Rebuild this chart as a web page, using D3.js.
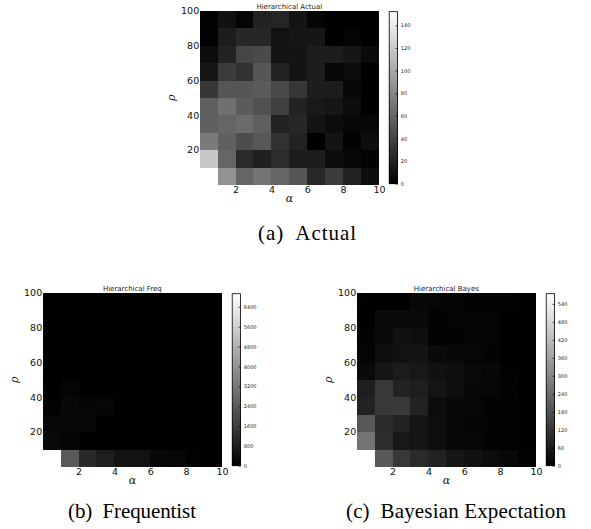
<!DOCTYPE html>
<html>
<head>
<meta charset="utf-8">
<script src="https://cdn.jsdelivr.net/npm/d3@7"></script>
<style>
  html, body { margin: 0; padding: 0; background: #fff; }
  svg { display: block; }
</style>
</head>
<body>
<svg id="chart" width="591" height="529"></svg>
<script>
// ---------- DATA ----------
// alpha bins (x), left edges; rho bins (y), lower edges
const alphaBins = [0, 1, 2, 3, 4, 5, 6, 7, 8, 9];
const rhoBins = [0, 10, 20, 30, 40, 50, 60, 70, 80, 90];
const xTicks = [2, 4, 6, 8, 10];
const yTicks = [20, 40, 60, 80, 100];

// rows from rho 0-10 (bottom) to rho 90-100 (top); columns alpha 0-1 ... 9-10
const actualGrid = [
  [152, 87, 60, 69, 60, 51, 24, 36, 20, 8],
  [119, 60, 25, 19, 26, 17, 17, 7, 4, 2],
  [73, 57, 46, 52, 30, 20, 0, 12, 2, 8],
  [57, 60, 64, 56, 20, 23, 12, 7, 4, 4],
  [56, 67, 54, 48, 38, 20, 15, 13, 7, 0],
  [33, 51, 51, 54, 44, 33, 17, 17, 5, 0],
  [13, 35, 30, 51, 20, 12, 17, 4, 7, 0],
  [7, 20, 41, 44, 12, 12, 17, 17, 13, 6],
  [1, 17, 23, 23, 11, 13, 13, 0, 3, 0],
  [1, 10, 3, 20, 22, 12, 3, 0, 0, 0]
];
const freqGrid = [
  [6930, 2430, 1080, 810, 490, 490, 220, 160, 50, 20],
  [270, 135, 20, 10, 10, 10, 10, 0, 0, 0],
  [170, 220, 160, 30, 10, 10, 0, 0, 0, 0],
  [60, 220, 135, 160, 20, 10, 0, 0, 0, 0],
  [20, 135, 40, 20, 10, 0, 0, 0, 0, 0],
  [10, 20, 10, 10, 0, 0, 0, 0, 0, 0],
  [10, 10, 10, 0, 0, 0, 0, 0, 0, 0],
  [0, 10, 0, 0, 0, 0, 0, 0, 0, 0],
  [0, 0, 0, 0, 0, 0, 0, 0, 0, 0],
  [0, 0, 0, 0, 0, 0, 0, 0, 0, 0]
];
const bayesGrid = [
  [574, 198, 126, 95, 77, 50, 38, 27, 18, 5],
  [259, 99, 54, 50, 32, 18, 14, 7, 5, 0],
  [198, 95, 77, 50, 32, 18, 11, 7, 5, 0],
  [77, 126, 126, 77, 27, 18, 14, 7, 5, 0],
  [68, 126, 77, 68, 47, 32, 18, 14, 7, 0],
  [23, 50, 63, 54, 38, 32, 23, 18, 5, 0],
  [9, 32, 41, 45, 23, 18, 14, 7, 0, 0],
  [7, 23, 38, 32, 5, 7, 11, 11, 0, 0],
  [0, 23, 23, 23, 5, 9, 11, 11, 0, 0],
  [0, 0, 0, 18, 14, 9, 5, 5, 5, 0]
];
const actualBarTicks = [0, 20, 40, 60, 80, 100, 120, 140];
const freqBarTicks = [0, 800, 1600, 2400, 3200, 4000, 4800, 5600, 6400];
const bayesBarTicks = [0, 60, 120, 180, 240, 300, 360, 420, 480, 540];

const titles = ["Hierarchical Actual", "Hierarchical Freq", "Hierarchical Bayes"];
const captions = ["(a)  Actual", "(b)  Frequentist", "(c)  Bayesian Expectation"];

// ---------- LAYOUT ----------
const panels = [
  { grid: actualGrid, barTicks: actualBarTicks, title: titles[0], caption: captions[0],
    x0: 199.7, y0: 10.7, capX: 258, capW: 98, capY: 240 },
  { grid: freqGrid, barTicks: freqBarTicks, title: titles[1], caption: captions[1],
    x0: 42.7, y0: 292.7, capX: 68, capW: 128, capY: 518 },
  { grid: bayesGrid, barTicks: bayesBarTicks, title: titles[2], caption: captions[2],
    x0: 356.7, y0: 292.7, capX: 346, capW: 220, capY: 518 }
];
const PW = 179.3, PH = 174;

const svg = d3.select("#chart");

panels.forEach(p => {
  const g = svg.append("g");
  const x = d3.scaleLinear().domain([0, 10]).range([p.x0, p.x0 + PW]);
  const y = d3.scaleLinear().domain([0, 100]).range([p.y0 + PH, p.y0]);
  const vmax = d3.max(p.grid.flat());
  const color = d3.scaleLinear().domain([0, vmax]).range(["#000000", "#ffffff"]).clamp(true);

  const cells = [];
  p.grid.forEach((row, ri) => row.forEach((v, ci) => {
    cells.push({ a: alphaBins[ci], r: rhoBins[ri], v });
  }));

  g.append("g").selectAll("rect").data(cells).join("rect")
    .attr("x", d => x(d.a))
    .attr("y", d => y(d.r + 10))
    .attr("width", d => x(d.a + 1) - x(d.a) + 0.3)
    .attr("height", d => y(d.r) - y(d.r + 10) + 0.3)
    .attr("fill", d => color(d.v))
    .attr("shape-rendering", "crispEdges");

  // title
  g.append("text")
    .attr("x", p.x0 + PW / 2).attr("y", p.y0 - 2.2)
    .attr("text-anchor", "middle")
    .attr("font-family", "DejaVu Sans").attr("font-size", 7)
    .attr("fill", "#222")
    .text(p.title);

  // y axis
  const yAxis = d3.axisLeft(y).tickValues(yTicks).tickSize(0).tickPadding(0.5);
  const ya = g.append("g").attr("transform", `translate(${p.x0},0)`).call(yAxis);
  ya.select(".domain").remove();
  ya.selectAll("text").attr("font-family", "DejaVu Sans").attr("font-size", 9.5).attr("fill", "#111");

  // x axis
  const xAxis = d3.axisBottom(x).tickValues(xTicks).tickSize(0).tickPadding(2);
  const xa = g.append("g").attr("transform", `translate(0,${p.y0 + PH})`).call(xAxis);
  xa.select(".domain").remove();
  xa.selectAll("text").attr("font-family", "DejaVu Sans").attr("font-size", 9.5).attr("fill", "#111");

  // axis labels
  g.append("text")
    .attr("x", p.x0 + PW / 2).attr("y", p.y0 + PH + 17.5)
    .attr("text-anchor", "middle")
    .attr("font-family", "DejaVu Serif").attr("font-style", "italic").attr("font-size", 11)
    .attr("fill", "#111")
    .text("α");
  g.append("text")
    .attr("transform", `translate(${p.x0 - 24.5},${p.y0 + PH / 2}) rotate(-90)`)
    .attr("text-anchor", "middle")
    .attr("font-family", "DejaVu Serif").attr("font-style", "italic").attr("font-size", 11)
    .attr("fill", "#111")
    .text("ρ");

  // colorbar
  const bx = p.x0 + PW + 10.2, bw = 8.4;
  const bTop = p.y0 + 1, bBot = p.y0 + PH - 1;
  const cb = d3.scaleLinear().domain([0, vmax]).range([bBot, bTop]);
  const steps = d3.range(0, 120);
  g.append("g").selectAll("rect").data(steps).join("rect")
    .attr("x", bx).attr("width", bw)
    .attr("y", i => cb(vmax * (i + 1) / steps.length))
    .attr("height", i => cb(vmax * i / steps.length) - cb(vmax * (i + 1) / steps.length) + 0.5)
    .attr("fill", i => color(vmax * (i + 0.5) / steps.length))
    .attr("shape-rendering", "crispEdges");
  g.append("rect")
    .attr("x", bx).attr("y", bTop).attr("width", bw).attr("height", bBot - bTop)
    .attr("fill", "none").attr("stroke", "#000").attr("stroke-width", 0.8);
  const cAxis = d3.axisRight(cb).tickValues(p.barTicks).tickFormat(d3.format("d"))
    .tickSize(-2).tickPadding(3.2);
  const ca = g.append("g").attr("transform", `translate(${bx + bw},0)`).call(cAxis);
  ca.select(".domain").remove();
  ca.selectAll("line").attr("stroke", "#000").attr("stroke-width", 0.7);
  ca.selectAll("text").attr("font-family", "DejaVu Sans").attr("font-size", 5).attr("fill", "#222");

  // caption
  svg.append("text")
    .attr("x", p.capX).attr("y", p.capY)
    .attr("font-family", "Liberation Serif").attr("font-size", 21)
    .attr("fill", "#000")
    .attr("textLength", p.capW).attr("lengthAdjust", "spacing")
    .style("white-space", "pre")
    .text(p.caption);
});
</script>
</body>
</html>
